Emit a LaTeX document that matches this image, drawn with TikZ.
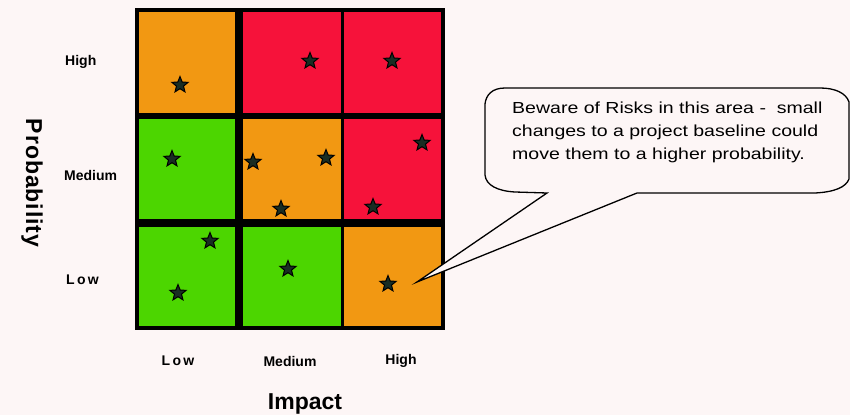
\documentclass[tikz,border=0pt]{standalone}
\usepackage{fontspec}
\setmainfont{Liberation Sans}
\newfontfamily\notefont[FakeStretch=1.22]{Liberation Sans}
\usetikzlibrary{shapes.geometric}
\definecolor{bg}{RGB}{253,246,246}
\definecolor{cellorange}{RGB}{242,152,18}
\definecolor{cellred}{RGB}{246,18,58}
\definecolor{cellgreen}{RGB}{76,214,0}
\definecolor{starfill}{RGB}{25,45,35}
\begin{document}
\begin{tikzpicture}[x=1pt,y=1pt,
  rstar/.style={star, star points=5, star point ratio=2.3, minimum size=17pt,
    inner sep=0pt, fill=starfill, draw=black, line width=1pt},
  axislab/.style={font=\bfseries\fontsize{14}{16}\selectfont, inner sep=0pt},
  axistitle/.style={font=\bfseries\fontsize{23}{25}\selectfont, inner sep=0pt}]
% page
\fill[bg] (0,0) rectangle (850,415);
\useasboundingbox (0,0) rectangle (850,415);

% risk matrix: black frame, then the nine cells
\fill[black] (135,85) rectangle (445,407);
% top row (high probability)
\fill[cellorange] (139,403) rectangle (235,302);
\fill[cellred]    (243,403) rectangle (341,302);
\fill[cellred]    (344,403) rectangle (441,302);
% middle row
\fill[cellgreen]  (139,296) rectangle (235,196);
\fill[cellorange] (243,296) rectangle (341,196);
\fill[cellred]    (344,296) rectangle (441,196);
% bottom row
\fill[cellgreen]  (139,188) rectangle (235,89);
\fill[cellgreen]  (243,188) rectangle (341,89);
\fill[cellorange] (344,188) rectangle (441,89);

% risks
\node[rstar] (s1)  at (180,330) {};
\node[rstar] (s2)  at (310,354) {};
\node[rstar] (s3)  at (392,354) {};
\node[rstar] (s4)  at (172,256) {};
\node[rstar] (s5)  at (253,253) {};
\node[rstar] (s6)  at (326,257) {};
\node[rstar] (s7)  at (422,272) {};
\node[rstar] (s8)  at (281,206) {};
\node[rstar] (s9)  at (373,208) {};
\node[rstar] (s10) at (210,174) {};
\node[rstar] (s11) at (178,122) {};
\node[rstar] (s12) at (288,146) {};
\node[rstar] (s13) at (388,131) {};

% axis labels
\node[axislab, anchor=west] (ph) at (65,353) {High};
\node[axislab, anchor=west] (pm) at (64,240) {Medium};
\node[axislab, anchor=west] (pl) at (66,135) {L\,o\,w};
\node[axislab] (il) at (178,54) {L\,o\,w};
\node[axislab] (im) at (290,54) {Medium};
\node[axislab] (ih) at (401,54) {High};
\node[axistitle] (impact) at (305,11) {Impact};
\node[axistitle, rotate=-90] (prob) at (32,232) {\addfontfeatures{LetterSpace=4}Probability};

% callout with its pointer to the high-impact / low-probability risk
\coordinate (tip) at (417,133);
\coordinate (tl) at (547,222);
\coordinate (tr) at (637,222);
\draw[fill=bg, line width=1.3pt, line join=miter]
  (tl) -- (tip) -- (tr) -- (815,222)
  .. controls (835,223) and (846,228) .. (849,236)
  -- (849,313)
  .. controls (846,322) and (835,327) .. (820,327)
  -- (505,327)
  .. controls (492,327) and (486,320) .. (485,311)
  -- (485,240)
  .. controls (486,230) and (497,224) .. (515,223)
  -- cycle;
\node[anchor=north west, align=left, inner sep=0pt,
  font=\notefont\fontsize{16}{23}\selectfont] (note) at (512,313)
  {Beware of Risks in this area -\ \ small\\
   changes to a project baseline could\\
   move them to a higher probability.};
\end{tikzpicture}
\end{document}
